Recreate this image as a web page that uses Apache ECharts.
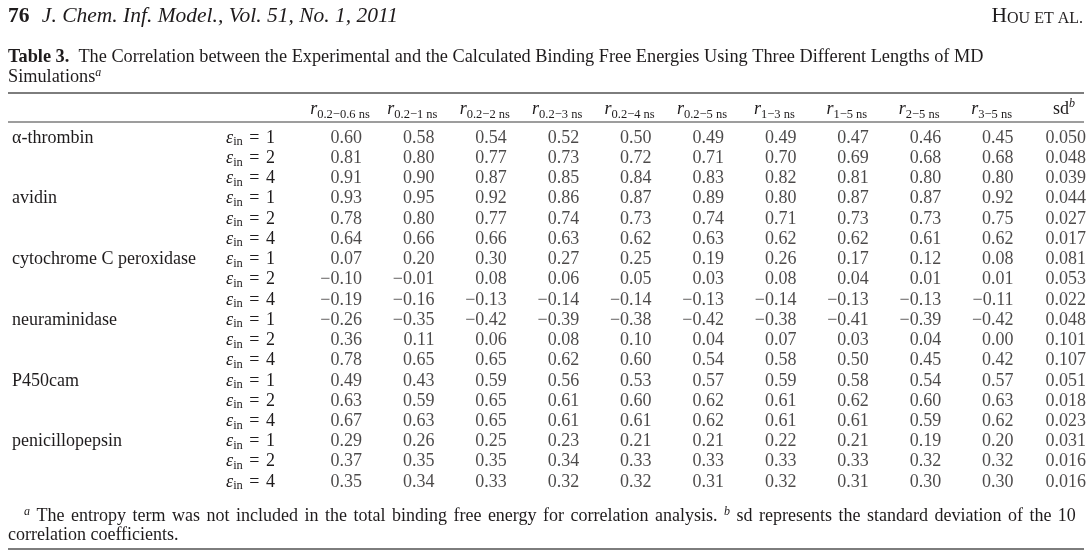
<!DOCTYPE html>
<html>
<head>
<meta charset="utf-8">
<script src="https://cdn.jsdelivr.net/npm/echarts@6/dist/echarts.min.js"></script>
<style>
  html, body { margin: 0; padding: 0; background: #fff; }
  #main { width: 1091px; height: 558px; }
</style>
</head>
<body>
<div id="main"></div>
<script>
var proteins = ['α-thrombin', 'avidin', 'cytochrome C peroxidase', 'neuraminidase', 'P450cam', 'penicillopepsin'];
var epsLevels = [1, 2, 4];
var rRanges = ['0.2−0.6 ns', '0.2−1 ns', '0.2−2 ns', '0.2−3 ns', '0.2−4 ns', '0.2−5 ns', '1−3 ns', '1−5 ns', '2−5 ns', '3−5 ns'];

// r values, one row per eps_in (1, 2, 4)
var thrombinR = [
  [0.60, 0.58, 0.54, 0.52, 0.50, 0.49, 0.49, 0.47, 0.46, 0.45],
  [0.81, 0.80, 0.77, 0.73, 0.72, 0.71, 0.70, 0.69, 0.68, 0.68],
  [0.91, 0.90, 0.87, 0.85, 0.84, 0.83, 0.82, 0.81, 0.80, 0.80]
];
var avidinR = [
  [0.93, 0.95, 0.92, 0.86, 0.87, 0.89, 0.80, 0.87, 0.87, 0.92],
  [0.78, 0.80, 0.77, 0.74, 0.73, 0.74, 0.71, 0.73, 0.73, 0.75],
  [0.64, 0.66, 0.66, 0.63, 0.62, 0.63, 0.62, 0.62, 0.61, 0.62]
];
var ccpR = [
  [0.07, 0.20, 0.30, 0.27, 0.25, 0.19, 0.26, 0.17, 0.12, 0.08],
  [-0.10, -0.01, 0.08, 0.06, 0.05, 0.03, 0.08, 0.04, 0.01, 0.01],
  [-0.19, -0.16, -0.13, -0.14, -0.14, -0.13, -0.14, -0.13, -0.13, -0.11]
];
var neuraminidaseR = [
  [-0.26, -0.35, -0.42, -0.39, -0.38, -0.42, -0.38, -0.41, -0.39, -0.42],
  [0.36, 0.11, 0.06, 0.08, 0.10, 0.04, 0.07, 0.03, 0.04, 0.00],
  [0.78, 0.65, 0.65, 0.62, 0.60, 0.54, 0.58, 0.50, 0.45, 0.42]
];
var p450camR = [
  [0.49, 0.43, 0.59, 0.56, 0.53, 0.57, 0.59, 0.58, 0.54, 0.57],
  [0.63, 0.59, 0.65, 0.61, 0.60, 0.62, 0.61, 0.62, 0.60, 0.63],
  [0.67, 0.63, 0.65, 0.61, 0.61, 0.62, 0.61, 0.61, 0.59, 0.62]
];
var penicillopepsinR = [
  [0.29, 0.26, 0.25, 0.23, 0.21, 0.21, 0.22, 0.21, 0.19, 0.20],
  [0.37, 0.35, 0.35, 0.34, 0.33, 0.33, 0.33, 0.33, 0.32, 0.32],
  [0.35, 0.34, 0.33, 0.32, 0.32, 0.31, 0.32, 0.31, 0.30, 0.30]
];
// sd of the 10 coefficients, in row order
var sdValues = [0.050, 0.048, 0.039, 0.044, 0.027, 0.017, 0.081, 0.053, 0.022,
                0.048, 0.101, 0.107, 0.051, 0.018, 0.023, 0.031, 0.016, 0.016];

var SERIF = "'Liberation Serif', 'DejaVu Serif', serif";
var INK = '#1e1b1c';
var RULE = '#7d7d7d';
var FS = 18;

var rTables = [thrombinR, avidinR, ccpR, neuraminidaseR, p450camR, penicillopepsinR];
var colKeys = rRanges.concat(['sd']);
var rowKeys = [], cells = [];
proteins.forEach(function (p, pi) {
  epsLevels.forEach(function (e, ei) {
    var row = rowKeys.length;
    rowKeys.push(p + '|' + e);
    rTables[pi][ei].forEach(function (v, ci) {
      cells.push([ci, row, v, 2]);
    });
    cells.push([rRanges.length, row, sdValues[row], 3]);
  });
});

function fmt(v, d) {
  var s = Math.abs(v).toFixed(d);
  return v < 0 ? '\u2212' + s : s;
}

// justified-looking line: words joined by slightly wider spaces
function spread(str) {
  return str.split(' ').map(function (w) {
    return w.charAt(0) === '^' ? '{a|' + w.slice(1) + '}' : '{t|' + w + '}';
  }).join('{sp| }');
}

var chart = echarts.init(document.getElementById('main'));

var option = {
  animation: false,
  backgroundColor: '#fff',
  textStyle: { fontFamily: SERIF, color: INK },
  grid: { left: 347, top: 138, width: 724, height: 344 },
  xAxis: {
    type: 'category',
    position: 'top',
    data: colKeys,
    boundaryGap: false,
    axisLine: { show: false },
    axisTick: { show: false },
    splitLine: { show: false },
    axisLabel: {
      interval: 0,
      margin: 17,
      padding: [0, 14, 0, 0],
      color: INK,
      formatter: function (v) {
        return v === 'sd' ? '{t|sd}{sup|b}' : '{r|r}{sub|' + v + '}';
      },
      rich: {
        r: { fontFamily: SERIF, fontStyle: 'italic', fontSize: FS, lineHeight: 23, color: INK },
        t: { fontFamily: SERIF, fontSize: FS, lineHeight: 23, color: INK },
        sub: { fontFamily: SERIF, fontSize: 12.5, lineHeight: 12, verticalAlign: 'bottom', color: INK },
        sup: { fontFamily: SERIF, fontStyle: 'italic', fontSize: 12, lineHeight: 12, verticalAlign: 'top', color: INK }
      }
    }
  },
  yAxis: [{
    type: 'category',
    data: rowKeys,
    inverse: true,
    boundaryGap: false,
    axisLine: { show: false },
    axisTick: { show: false },
    splitLine: { show: false },
    axisLabel: {
      interval: 0,
      margin: 72,
      color: INK,
      formatter: function (v) {
        return '{e|ε}{s|in}{t| }{q|=}{t| ' + v.split('|')[1] + '}';
      },
      rich: {
        e: { fontFamily: SERIF, fontStyle: 'italic', fontSize: FS, lineHeight: 21, color: INK },
        s: { fontFamily: SERIF, fontSize: 12.5, lineHeight: 12, verticalAlign: 'bottom', color: INK },
        q: { fontFamily: SERIF, fontSize: FS, lineHeight: 21, padding: [0, 2, 0, 2], color: INK },
        t: { fontFamily: SERIF, fontSize: FS, lineHeight: 21, color: INK }
      }
    }
  }, {
    type: 'category',
    data: rowKeys,
    inverse: true,
    position: 'left',
    boundaryGap: false,
    axisLine: { show: false },
    axisTick: { show: false },
    splitLine: { show: false },
    axisLabel: {
      interval: 0,
      margin: 335,
      align: 'left',
      fontFamily: SERIF,
      fontSize: FS,
      color: INK,
      formatter: function (v) {
        var parts = v.split('|');
        return parts[1] === String(epsLevels[0]) ? parts[0] : '';
      }
    }
  }],
  series: [{
    type: 'scatter',
    silent: true,
    symbolSize: 0,
    data: cells,
    label: {
      show: true,
      position: 'inside',
      align: 'right',
      offset: [15, 0],
      fontFamily: SERIF,
      fontSize: FS,
      color: INK,
      formatter: function (p) { return fmt(p.value[2], p.value[3]); }
    }
  }],
  graphic: [
    // running head
    { type: 'text', left: 8, top: 5, style: {
      text: '{n|76} {j|J. Chem. Inf. Model., Vol. 51, No. 1, 2011}',
      rich: {
        n: { fontFamily: SERIF, fontWeight: 'bold', fontSize: 21.5, padding: [0, 9, 0, 0], fill: INK },
        j: { fontFamily: SERIF, fontStyle: 'italic', fontSize: 21.5, fill: INK }
      }
    } },
    { type: 'text', right: 8, top: 5, style: {
      text: '{h|H}{c|OU ET AL.}',
      rich: {
        h: { fontFamily: SERIF, fontSize: 21.5, lineHeight: 24, verticalAlign: 'bottom', fill: INK },
        c: { fontFamily: SERIF, fontSize: 16, lineHeight: 19, verticalAlign: 'bottom', fill: INK }
      }
    } },
    // caption
    { type: 'text', left: 8, top: 48, style: {
      text: '{b|Table 3.}{t|  The Correlation between the Experimental and the Calculated Binding Free Energies Using Three Different Lengths of MD}\n{t|Simulations}{a|a}',
      rich: {
        b: { fontFamily: SERIF, fontWeight: 'bold', fontSize: 18.3, lineHeight: 20, fill: INK },
        t: { fontFamily: SERIF, fontSize: 18.3, lineHeight: 20, fill: INK },
        a: { fontFamily: SERIF, fontStyle: 'italic', fontSize: 12, lineHeight: 12, verticalAlign: 'top', fill: INK }
      }
    } },
    // rules
    { type: 'line', shape: { x1: 8, y1: 93, x2: 1084, y2: 93 }, style: { stroke: RULE, lineWidth: 2 } },
    { type: 'line', shape: { x1: 8, y1: 122, x2: 1084, y2: 122 }, style: { stroke: RULE, lineWidth: 1.5 } },
    { type: 'line', shape: { x1: 8, y1: 549, x2: 1084, y2: 549 }, style: { stroke: RULE, lineWidth: 2 } },
    // footnotes
    { type: 'text', left: 24, top: 503, style: {
      text: spread('^a The entropy term was not included in the total binding free energy for correlation analysis. ^b sd represents the standard deviation of the 10'),
      rich: {
        t: { fontFamily: SERIF, fontSize: FS, lineHeight: 20, fill: INK },
        sp: { fontFamily: SERIF, fontSize: 26, lineHeight: 20, fill: INK },
        a: { fontFamily: SERIF, fontStyle: 'italic', fontSize: 12, lineHeight: 12, verticalAlign: 'top', fill: INK }
      }
    } },
    { type: 'text', left: 8, top: 526, style: {
      text: 'correlation coefficients.',
      font: FS + 'px ' + SERIF,
      fill: INK
    } }
  ]
};

chart.setOption(option);
</script>
</body>
</html>
